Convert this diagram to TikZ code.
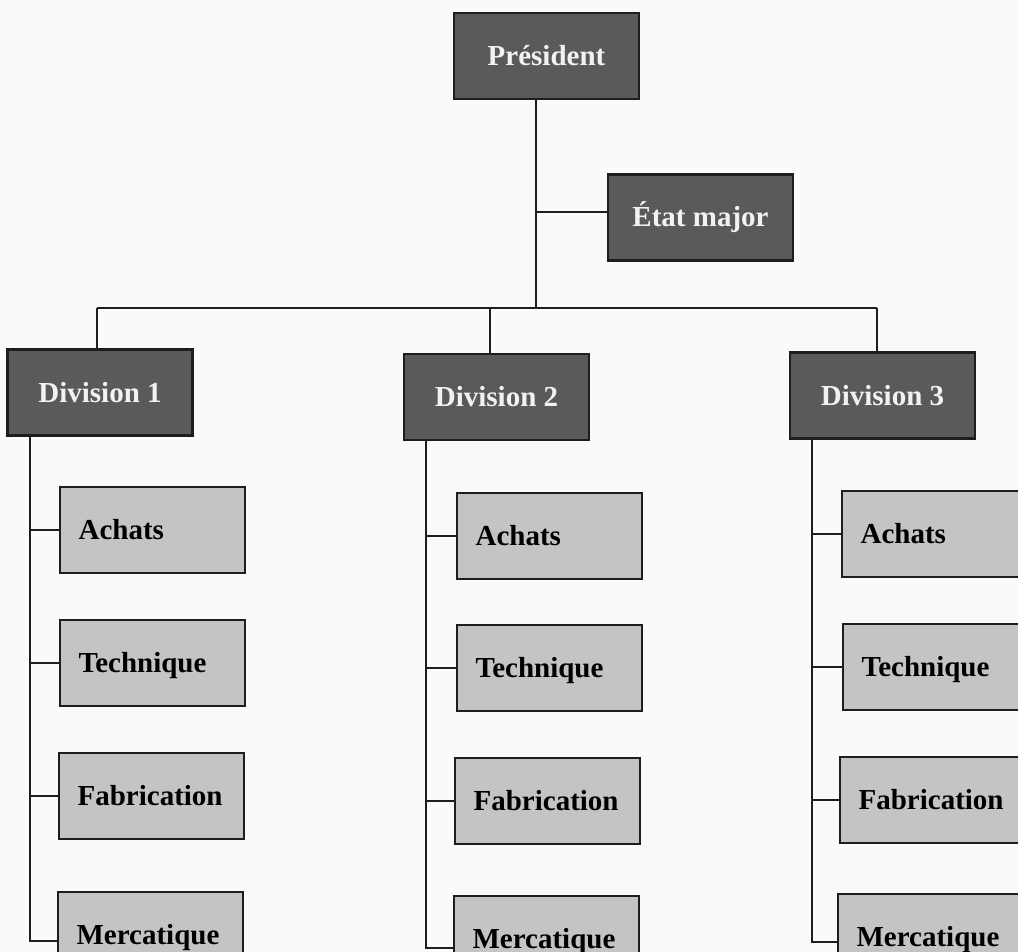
\documentclass[tikz,border=0pt]{standalone}
\usepackage{fontspec}
\setmainfont{Liberation Serif}
\definecolor{darkbox}{HTML}{5A5A5A}
\definecolor{lightbox}{HTML}{C4C4C4}
\definecolor{ink}{HTML}{1E1E1E}
\definecolor{paper}{HTML}{FAFAFA}
\definecolor{whitetext}{HTML}{F2F2F2}
\begin{document}
\begin{tikzpicture}[x=1pt,y=-1pt,
  boxbase/.style={draw=ink, line width=2.2pt, rectangle,
    font=\fontsize{29}{34}\selectfont\bfseries,
    text height=19pt, text depth=0pt, inner sep=0pt},
  topbox/.style={boxbase, fill=darkbox, text=whitetext,
    minimum width=185pt, minimum height=86pt},
  deptbox/.style={boxbase, fill=lightbox, text=black, anchor=north west,
    text width=148pt, align=left, inner xsep=18.5pt, minimum height=86pt},
  link/.style={draw=ink, line width=2pt}]
\useasboundingbox (0,0) rectangle (1018,952);
\clip (0,0) rectangle (1018,952);
\fill[paper] (0,0) rectangle (1018,952);

% top level
\node[topbox] (pres) at (546.5,56) {Président};
\node[topbox] (etat) at (700.5,217.5) {État major};
\node[topbox] (d1) at (100,392.5) {Division 1};
\node[topbox] (d2) at (496.5,397) {Division 2};
\node[topbox] (d3) at (882.5,395.5) {Division 3};

% departments
\node[deptbox] (d1a) at (59,486) {Achats};
\node[deptbox] (d1t) at (59,619) {Technique};
\node[deptbox] (d1f) at (58,752) {Fabrication};
\node[deptbox] (d1m) at (57,891) {Mercatique};

\node[deptbox] (d2a) at (456,492) {Achats};
\node[deptbox] (d2t) at (456,624) {Technique};
\node[deptbox] (d2f) at (454,757) {Fabrication};
\node[deptbox] (d2m) at (453,895) {Mercatique};

\node[deptbox] (d3a) at (841,490) {Achats};
\node[deptbox] (d3t) at (842,623) {Technique};
\node[deptbox] (d3f) at (839,756) {Fabrication};
\node[deptbox] (d3m) at (837,893) {Mercatique};

% junctions
\coordinate (bar) at (536,308);
\coordinate (ej) at (536,212);
\coordinate (barL) at (97,308);
\coordinate (barM) at (490,308);
\coordinate (barR) at (877,308);
\coordinate (v1) at (30,941);
\coordinate (v2) at (426,948);
\coordinate (v3) at (812,942);

% connectors
\draw[link] (pres.south -| bar) -- (bar);
\draw[link] (ej) -- (ej -| etat.west);
\draw[link] (barL) -- (barR);
\draw[link] (barL) -- (barL |- d1.north);
\draw[link] (barM) -- (barM |- d2.north);
\draw[link] (barR) -- (barR |- d3.north);

\draw[link] (v1 |- d1.south) -- (v1) -- (v1 -| d1m.west);
\draw[link] (d1a.west) -- (d1a.west -| v1);
\draw[link] (d1t.west) -- (d1t.west -| v1);
\draw[link] (d1f.west) -- (d1f.west -| v1);

\draw[link] (v2 |- d2.south) -- (v2) -- (v2 -| d2m.west);
\draw[link] (d2a.west) -- (d2a.west -| v2);
\draw[link] (d2t.west) -- (d2t.west -| v2);
\draw[link] (d2f.west) -- (d2f.west -| v2);

\draw[link] (v3 |- d3.south) -- (v3) -- (v3 -| d3m.west);
\draw[link] (d3a.west) -- (d3a.west -| v3);
\draw[link] (d3t.west) -- (d3t.west -| v3);
\draw[link] (d3f.west) -- (d3f.west -| v3);
\end{tikzpicture}
\end{document}
